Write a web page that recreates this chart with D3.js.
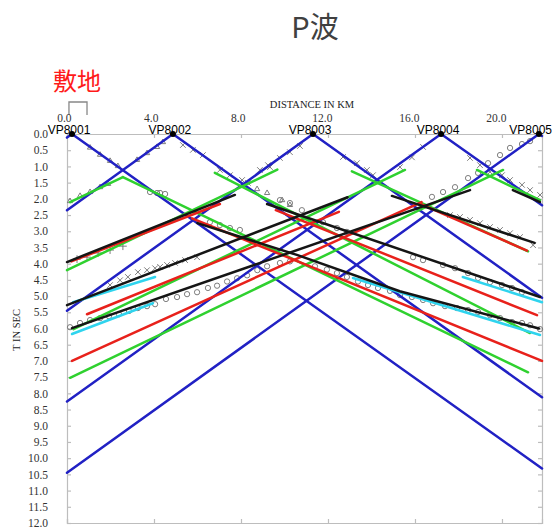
<!DOCTYPE html>
<html lang="ja">
<head>
<meta charset="UTF-8">
<title>P波</title>
<script src="https://d3js.org/d3.v7.min.js"></script>
<style>
  body { margin: 0; background: #fff; }
  .axis path, .axis line { stroke: #bdbdbd; stroke-width: 1.2; }
</style>
</head>
<body>
<div id="chart"></div>
<script>
// shot points, km along the line
const shotNames = ["VP8001", "VP8002", "VP8003", "VP8004", "VP8005"];
const shotKm = [0.23, 4.87, 11.31, 17.2, 21.7];

const xTickValues = [0, 4, 8, 12, 16, 20];
const xTickLabels = ["0.0", "4.0", "8.0", "12.0", "16.0", "20.0"];
const yTickValues = [0, 0.5, 1, 1.5, 2, 2.5, 3, 3.5, 4, 4.5, 5, 5.5, 6, 6.5, 7, 7.5, 8, 8.5, 9, 9.5, 10, 10.5, 11, 11.5, 12];
const yTickLabels = ["0.0", "0.5", "1.0", "1.5", "2.0", "2.5", "3.0", "3.5", "4.0", "4.5", "5.0", "5.5", "6.0",
    "6.5", "7.0", "7.5", "8.0", "8.5", "9.0", "9.5", "10.0", "10.5", "11.0", "11.5", "12.0"];

// travel time lines: [km, sec]
const blueLines = [
    [[0, 0.11], [0.23, 0], [21.84, 10.32]],
    [[0, 2.35], [4.87, 0], [21.84, 8.12]],
    [[0, 5.45], [11.31, 0], [21.84, 5.05]],
    [[0, 8.25], [17.2, 0], [21.84, 2.2]],
    [[0, 10.45], [21.7, 0], [21.84, 0.06]]
];
const greenLines = [
    [[0.14, 2.10], [2.57, 1.33]],
    [[2.57, 1.33], [21.2, 7.35]],
    [[0, 4.2], [9.67, 1.1]],
    [[6.8, 1.2], [21.29, 6.14]],
    [[13.1, 1.15], [21.2, 3.62]],
    [[0.3, 6.02], [15.54, 1.11]],
    [[18.85, 1.11], [21.75, 2.04]],
    [[0.14, 7.52], [20.05, 1.11]]
];
const redLines = [
    [[0.2, 3.93], [7.03, 2.16]],
    [[5.75, 2.6], [21.84, 7.0]],
    [[9.6, 2.35], [21.61, 5.59]],
    [[16.3, 2.17], [21.15, 3.6]],
    [[0.92, 5.56], [12.5, 2.4]],
    [[0.23, 7.0], [16.3, 2.1]]
];
const blackLines = [
    [[0, 3.95], [7.72, 1.88]],
    [[6.0, 2.75], [10.57, 3.73], [15.3, 4.85], [21.7, 6.0]],
    [[9.2, 2.16], [21.75, 5.03]],
    [[14.94, 1.91], [21.5, 3.36]],
    [[0, 5.28], [12.9, 1.95]],
    [[0.23, 5.99], [18.53, 1.73]],
    [[20.5, 1.73], [21.75, 2.1]]
];
const cyanLines = [
    [[0.23, 6.17], [3.95, 5.22]],
    [[0.28, 5.19], [4.05, 4.41]],
    [[13.15, 4.44], [21.75, 6.2]],
    [[18.2, 4.41], [21.84, 5.19]]
];

// picked arrivals
const circleMarks = [
    [3.82, 1.79], [4.14, 1.82], [4.28, 1.82], [4.51, 1.85], [6.57, 2.72], [7.03, 2.81], [7.49, 2.90], [7.95, 2.96],
    [0.14, 5.96], [0.60, 5.83], [1.06, 5.74], [1.52, 5.68], [1.93, 5.62], [2.39, 5.56], [2.85, 5.46], [3.26, 5.37],
    [3.68, 5.31], [4.05, 5.25], [4.55, 5.09], [5.06, 5.03], [5.52, 4.94], [5.98, 4.88], [6.48, 4.75], [6.90, 4.68],
    [7.36, 4.55], [7.82, 4.45], [8.28, 4.36], [8.75, 4.2], [9.20, 4.08], [9.79, 3.98], [10.25, 3.93], [11.40, 4.08],
    [11.95, 4.18], [12.41, 4.29], [12.87, 4.41], [13.38, 4.55], [13.84, 4.66], [14.30, 4.75], [14.85, 4.84],
    [15.31, 4.97], [15.86, 5.03], [16.37, 5.12], [16.83, 5.22], [17.38, 5.31], [17.93, 5.37], [18.44, 5.43],
    [18.90, 5.49], [19.45, 5.59], [19.91, 5.68], [20.46, 5.80], [20.92, 5.83], [21.29, 5.90], [21.75, 6.02],
    [9.79, 2.04], [10.25, 2.13], [10.8, 2.35], [11.77, 2.72], [12.41, 2.9], [12.87, 3.02], [15.91, 3.80],
    [16.37, 3.89], [17.29, 4.04], [17.84, 4.14], [18.44, 4.29], [18.90, 4.44], [19.45, 4.57], [20.0, 4.66],
    [20.46, 4.75], [20.92, 4.88],
    [16.78, 1.94], [17.29, 1.79], [17.84, 1.64], [18.44, 1.36], [18.90, 1.20], [19.36, 0.90], [19.91, 0.65],
    [20.37, 0.43], [20.92, 0.31], [21.29, 0.22]
];
const crossMarks = [
    [1.98, 4.66], [2.44, 4.51], [2.80, 4.41], [3.26, 4.26], [3.68, 4.20], [4.05, 4.14], [4.28, 4.10], [4.60, 4.04],
    [4.97, 3.98], [5.43, 3.89], [5.98, 3.80],
    [18.53, 0.74], [18.99, 0.96], [19.45, 1.17], [20.0, 1.27], [20.37, 1.42], [20.92, 1.57], [21.29, 1.73], [21.75, 1.88],
    [17.61, 2.50], [18.07, 2.56], [18.53, 2.65], [18.99, 2.75], [19.45, 2.87], [19.91, 2.96], [20.37, 3.06],
    [20.83, 3.18], [21.43, 3.43],
    [9.33, 1.02], [9.79, 0.74], [10.25, 0.56], [10.71, 0.37], [12.69, 0.71], [13.33, 0.90], [13.79, 1.11],
    [14.07, 1.27], [15.31, 1.02], [15.86, 0.72], [16.37, 0.40], [5.33, 0.34], [5.79, 0.49], [6.25, 0.65],
    [7.03, 1.11], [7.49, 1.27], [8.05, 1.42], [8.32, 1.51], [8.87, 1.11], [9.24, 0.96]
];
const triMarks = [
    [0.14, 2.07], [0.60, 1.91], [1.06, 1.79], [1.52, 1.64], [1.89, 1.54],
    [1.06, 0.42], [1.52, 0.64], [1.98, 0.83], [2.34, 0.99],
    [3.22, 0.80], [3.68, 0.59], [4.14, 0.40], [4.41, 0.25],
    [8.74, 1.70], [9.20, 1.82], [9.89, 2.04], [10.25, 2.19]
];
const plusMarks = [
    [0.46, 3.86], [0.92, 3.80], [1.43, 3.67], [1.98, 3.58], [2.57, 3.46]
];

const width = 554, height = 528;
const svg = d3.select('#chart').append('svg')
    .attr('width', width)
    .attr('height', height);

const x = d3.scaleLinear().domain([0, 21.84]).range([67, 542]);
const y = d3.scaleLinear().domain([0, 12]).range([134, 523]);

// title and site mark
svg.append('text')
    .attr('x', 315).attr('y', 38)
    .attr('text-anchor', 'middle')
    .attr('font-family', '"Noto Sans CJK JP", "Noto Sans", sans-serif')
    .attr('font-size', 29)
    .attr('fill', '#404040')
    .text('P波');

svg.append('text')
    .attr('x', 77).attr('y', 90)
    .attr('text-anchor', 'middle')
    .attr('font-family', '"Noto Sans CJK JP", sans-serif')
    .attr('font-size', 24)
    .attr('fill', '#ff1a1a')
    .text('敷地');

svg.append('path')
    .attr('d', `M${x(0.09)},115V102H${x(0.92)}V115`)
    .attr('fill', 'none')
    .attr('stroke', '#888')
    .attr('stroke-width', 1.3);

// axes
svg.append('g').attr('class', 'axis')
    .attr('transform', 'translate(67,0)')
    .call(d3.axisLeft(y).tickValues(yTickValues).tickFormat((d, i) => yTickLabels[i]).tickSize(-4).tickPadding(19));

svg.append('g').attr('class', 'axis')
    .attr('transform', 'translate(542,0)')
    .call(d3.axisRight(y).tickValues(yTickValues).tickFormat('').tickSize(-4));

svg.append('g').attr('class', 'axis')
    .attr('transform', 'translate(0,523)')
    .call(d3.axisBottom(x).tickValues(xTickValues).tickFormat('').tickSize(-4));

const topAxis = svg.append('g').attr('class', 'axis')
    .attr('transform', 'translate(0,134)')
    .call(d3.axisTop(x).tickValues(xTickValues).tickFormat((d, i) => xTickLabels[i]).tickSize(-4).tickPadding(12));
topAxis.selectAll('text').attr('text-anchor', 'end').attr('dx', 4);

svg.selectAll('.axis text')
    .attr('font-family', '"Liberation Serif", "Times New Roman", serif')
    .attr('font-size', 11.5)
    .attr('fill', '#333');

svg.append('text')
    .attr('x', 312).attr('y', 108)
    .attr('text-anchor', 'middle')
    .attr('font-family', '"Liberation Serif", serif')
    .attr('font-size', 10.5)
    .attr('fill', '#222')
    .text('DISTANCE IN KM');

svg.append('text')
    .attr('transform', 'translate(20,330) rotate(-90)')
    .attr('text-anchor', 'middle')
    .attr('font-family', '"Liberation Serif", serif')
    .attr('font-size', 10.5)
    .attr('fill', '#222')
    .text('T IN SEC');

// markers for picks
const markG = svg.append('g')
    .attr('fill', 'none')
    .attr('stroke', '#6f6f6f')
    .attr('stroke-width', 0.9);

function drawMarks(data, type, size) {
    markG.append('g').selectAll('path')
        .data(data)
        .join('path')
        .attr('transform', d => `translate(${x(d[0])},${y(d[1])})`)
        .attr('d', d3.symbol().type(type).size(size));
}
drawMarks(circleMarks, d3.symbolCircle, 22);
drawMarks(crossMarks, d3.symbolTimes || d3.symbolCross, 22);
drawMarks(triMarks, d3.symbolTriangle2 || d3.symbolTriangle, 20);
drawMarks(plusMarks, d3.symbolPlus || d3.symbolCross, 22);

// travel time curves
const line = d3.line().x(d => x(d[0])).y(d => y(d[1]));
const lineG = svg.append('g')
    .attr('fill', 'none')
    .attr('stroke-width', 2.5)
    .attr('stroke-linecap', 'round');

function drawSet(sets, color) {
    lineG.append('g').attr('stroke', color)
        .selectAll('path')
        .data(sets)
        .join('path')
        .attr('d', line);
}
drawSet(blueLines, '#2121c4');
drawSet(greenLines, '#2fd12f');
drawSet(redLines, '#e8211b');
drawSet(cyanLines, '#2fd4ee');
drawSet(blackLines, '#151515');

// shot points
svg.append('g').selectAll('circle')
    .data(shotKm)
    .join('circle')
    .attr('cx', d => x(d))
    .attr('cy', 134)
    .attr('r', 3)
    .attr('fill', '#000');

// labels sit just left of each shot, kept inside the picture
svg.append('g').selectAll('text')
    .data(shotNames)
    .join('text')
    .attr('y', 134)
    .attr('font-family', '"Liberation Sans", Arial, sans-serif')
    .attr('font-size', 12)
    .attr('fill', '#000')
    .text(d => d)
    .attr('x', function(d, i) {
        const w = this.getComputedTextLength();
        return Math.min(x(shotKm[i]) - 3 - w / 2, width - 2 - w);
    });
</script>
</body>
</html>
